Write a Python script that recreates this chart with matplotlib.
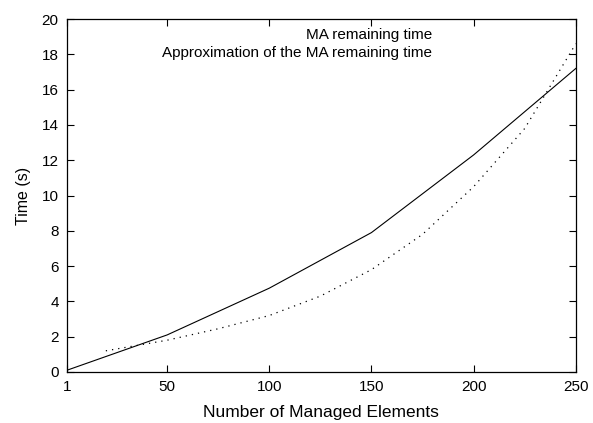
import matplotlib.pyplot as plt

plt.rcParams['font.family'] = ['Liberation Sans', 'DejaVu Sans']

# measured remaining time of the MA
elements = [1, 50, 100, 150, 200, 250]
ma_time = [0.1, 2.1, 4.75, 7.9, 12.3, 17.2]

# approximation curve
approx_elements = [20, 30, 40, 50, 75, 100, 125, 150, 175, 200, 225, 250]
approx_time = [1.2, 1.4, 1.6, 1.8, 2.45, 3.2, 4.3, 5.8, 7.8, 10.5, 13.8, 18.6]

x_ticks = [1, 50, 100, 150, 200, 250]
y_ticks = list(range(0, 21, 2))

fig = plt.figure(figsize=(5.93, 4.23), dpi=100)
ax = fig.add_axes([0.113, 0.1206, 0.858, 0.8344])

ax.plot(elements, ma_time, color='black', lw=0.8)
ax.plot(approx_elements, approx_time, color='black', lw=0.9, linestyle=(0, (1, 4)))

ax.set_xlim(1, 250)
ax.set_ylim(0, 20)
ax.set_xticks(x_ticks)
ax.set_yticks(y_ticks)
ax.tick_params(direction='in', top=True, right=True, length=5, width=0.8,
               labelsize=11, pad=6)
for s in ax.spines.values():
    s.set_linewidth(0.9)

ax.set_xlabel('Number of Managed Elements', fontsize=12.5, labelpad=8)
ax.set_ylabel('Time (s)', fontsize=11.5, labelpad=8)

# key entries, right aligned like the gnuplot key
ax.text(0.718, 0.954, 'MA remaining time', transform=ax.transAxes,
        ha='right', va='center', fontsize=11)
ax.text(0.718, 0.905, 'Approximation of the MA remaining time', transform=ax.transAxes,
        ha='right', va='center', fontsize=11)

fig.savefig('out.png', dpi=100)
